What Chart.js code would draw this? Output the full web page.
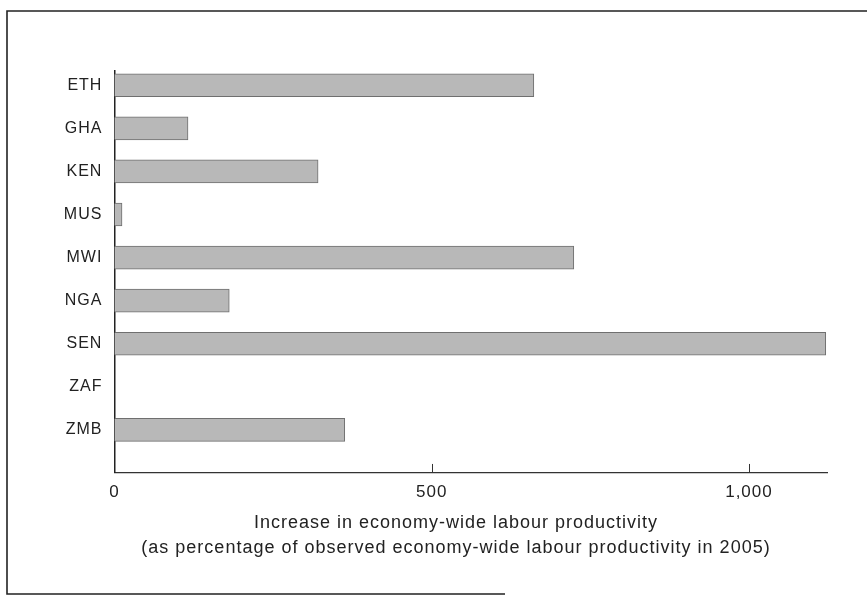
<!DOCTYPE html>
<html>
<head>
<meta charset="utf-8">
<script src="https://cdn.jsdelivr.net/npm/chart.js@4.4.1/dist/chart.umd.min.js"></script>
<style>
  html, body { margin: 0; padding: 0; background: #ffffff; }
  #wrap { width: 867px; height: 598px; }
</style>
</head>
<body>
<div id="wrap"><canvas id="c" width="867" height="598"></canvas></div>
<script>
// ---- data ----
const categories = ['ETH', 'GHA', 'KEN', 'MUS', 'MWI', 'NGA', 'SEN', 'ZAF', 'ZMB'];
const values = [661, 116, 321, 12, 724, 181, 1121, 0, 363];
const xTickValues = [0, 500, 1000];
const xTickLabels = ['0', '500', '1,000'];
const axisTitleLines = [
  'Increase in economy-wide labour productivity',
  '(as percentage of observed economy-wide labour productivity in 2005)'
];

const TEXT = '#222222';
const FONT = "'Liberation Sans', Arial, Helvetica, sans-serif";

const spacingPlugin = {
  id: 'spacing',
  beforeUpdate(chart) { chart.ctx.letterSpacing = '1px'; },
  beforeDraw(chart) {
    chart.ctx.letterSpacing = '1px';
    // let the category labels extend left of the narrow y-scale box
    chart.scales.y._computeLabelArea = () => undefined;
  }
};

const framePlugin = {
  id: 'frame',
  beforeDraw(chart) {
    const ctx = chart.ctx;
    ctx.save();
    ctx.strokeStyle = '#222';
    ctx.lineWidth = 1.6;
    ctx.beginPath();
    ctx.moveTo(867, 11);
    ctx.lineTo(7, 11);
    ctx.lineTo(7, 594);
    ctx.lineTo(505, 594);
    ctx.stroke();
    ctx.restore();
  }
};

const innerTicksPlugin = {
  id: 'innerTicks',
  afterDatasetsDraw(chart) {
    const xs = chart.scales.x;
    const ctx = chart.ctx;
    const bottom = chart.chartArea.bottom;
    ctx.save();
    ctx.strokeStyle = '#333';
    ctx.lineWidth = 1;
    xTickValues.forEach(v => {
      if (v === 0) return;
      const px = Math.round(xs.getPixelForValue(v)) + 0.5;
      ctx.beginPath();
      ctx.moveTo(px, bottom);
      ctx.lineTo(px, bottom - 9);
      ctx.stroke();
    });
    ctx.restore();
  }
};

new Chart(document.getElementById('c'), {
  type: 'bar',
  data: {
    datasets: [{
      data: categories.map((c, i) => ({ x: values[i], y: i })),
      backgroundColor: '#b8b8b8',
      borderColor: '#6f6f6f',
      borderWidth: 1,
      borderSkipped: 'start',
      barThickness: 23
    }]
  },
  options: {
    indexAxis: 'y',
    responsive: false,
    animation: false,
    layout: { padding: { left: 85, right: 40, top: 71, bottom: 0 } },
    plugins: {
      legend: { display: false },
      tooltip: { enabled: false },
      title: {
        display: true,
        position: 'bottom',
        text: axisTitleLines,
        color: TEXT,
        font: { family: FONT, size: 18, weight: 'normal', lineHeight: 1.39 },
        padding: { top: 0, bottom: 37 }
      }
    },
    scales: {
      x: {
        type: 'linear',
        min: 0,
        max: 1123,
        afterBuildTicks: s => { s.ticks = xTickValues.map(v => ({ value: v })); },
        afterFit: s => { s.height = 38; },
        grid: { display: false, drawTicks: false },
        border: { display: true, color: '#333', width: 1.2 },
        ticks: {
          padding: 9,
          color: TEXT,
          font: { family: FONT, size: 17 },
          maxRotation: 0,
          callback: (v) => xTickLabels[xTickValues.indexOf(v)]
        }
      },
      y: {
        type: 'linear',
        reverse: true,
        offset: false,
        min: -0.33,
        max: 9.0,
        afterBuildTicks: s => { s.ticks = categories.map((c, i) => ({ value: i })); },
        afterFit: s => { s.width = 29.4; },
        grid: { display: false, drawTicks: false },
        border: { display: true, color: '#222', width: 1.5 },
        ticks: {
          padding: 12,
          color: TEXT,
          font: { family: FONT, size: 16 },
          callback: (v) => categories[v]
        }
      }
    }
  },
  plugins: [spacingPlugin, framePlugin, innerTicksPlugin]
});
</script>
</body>
</html>
